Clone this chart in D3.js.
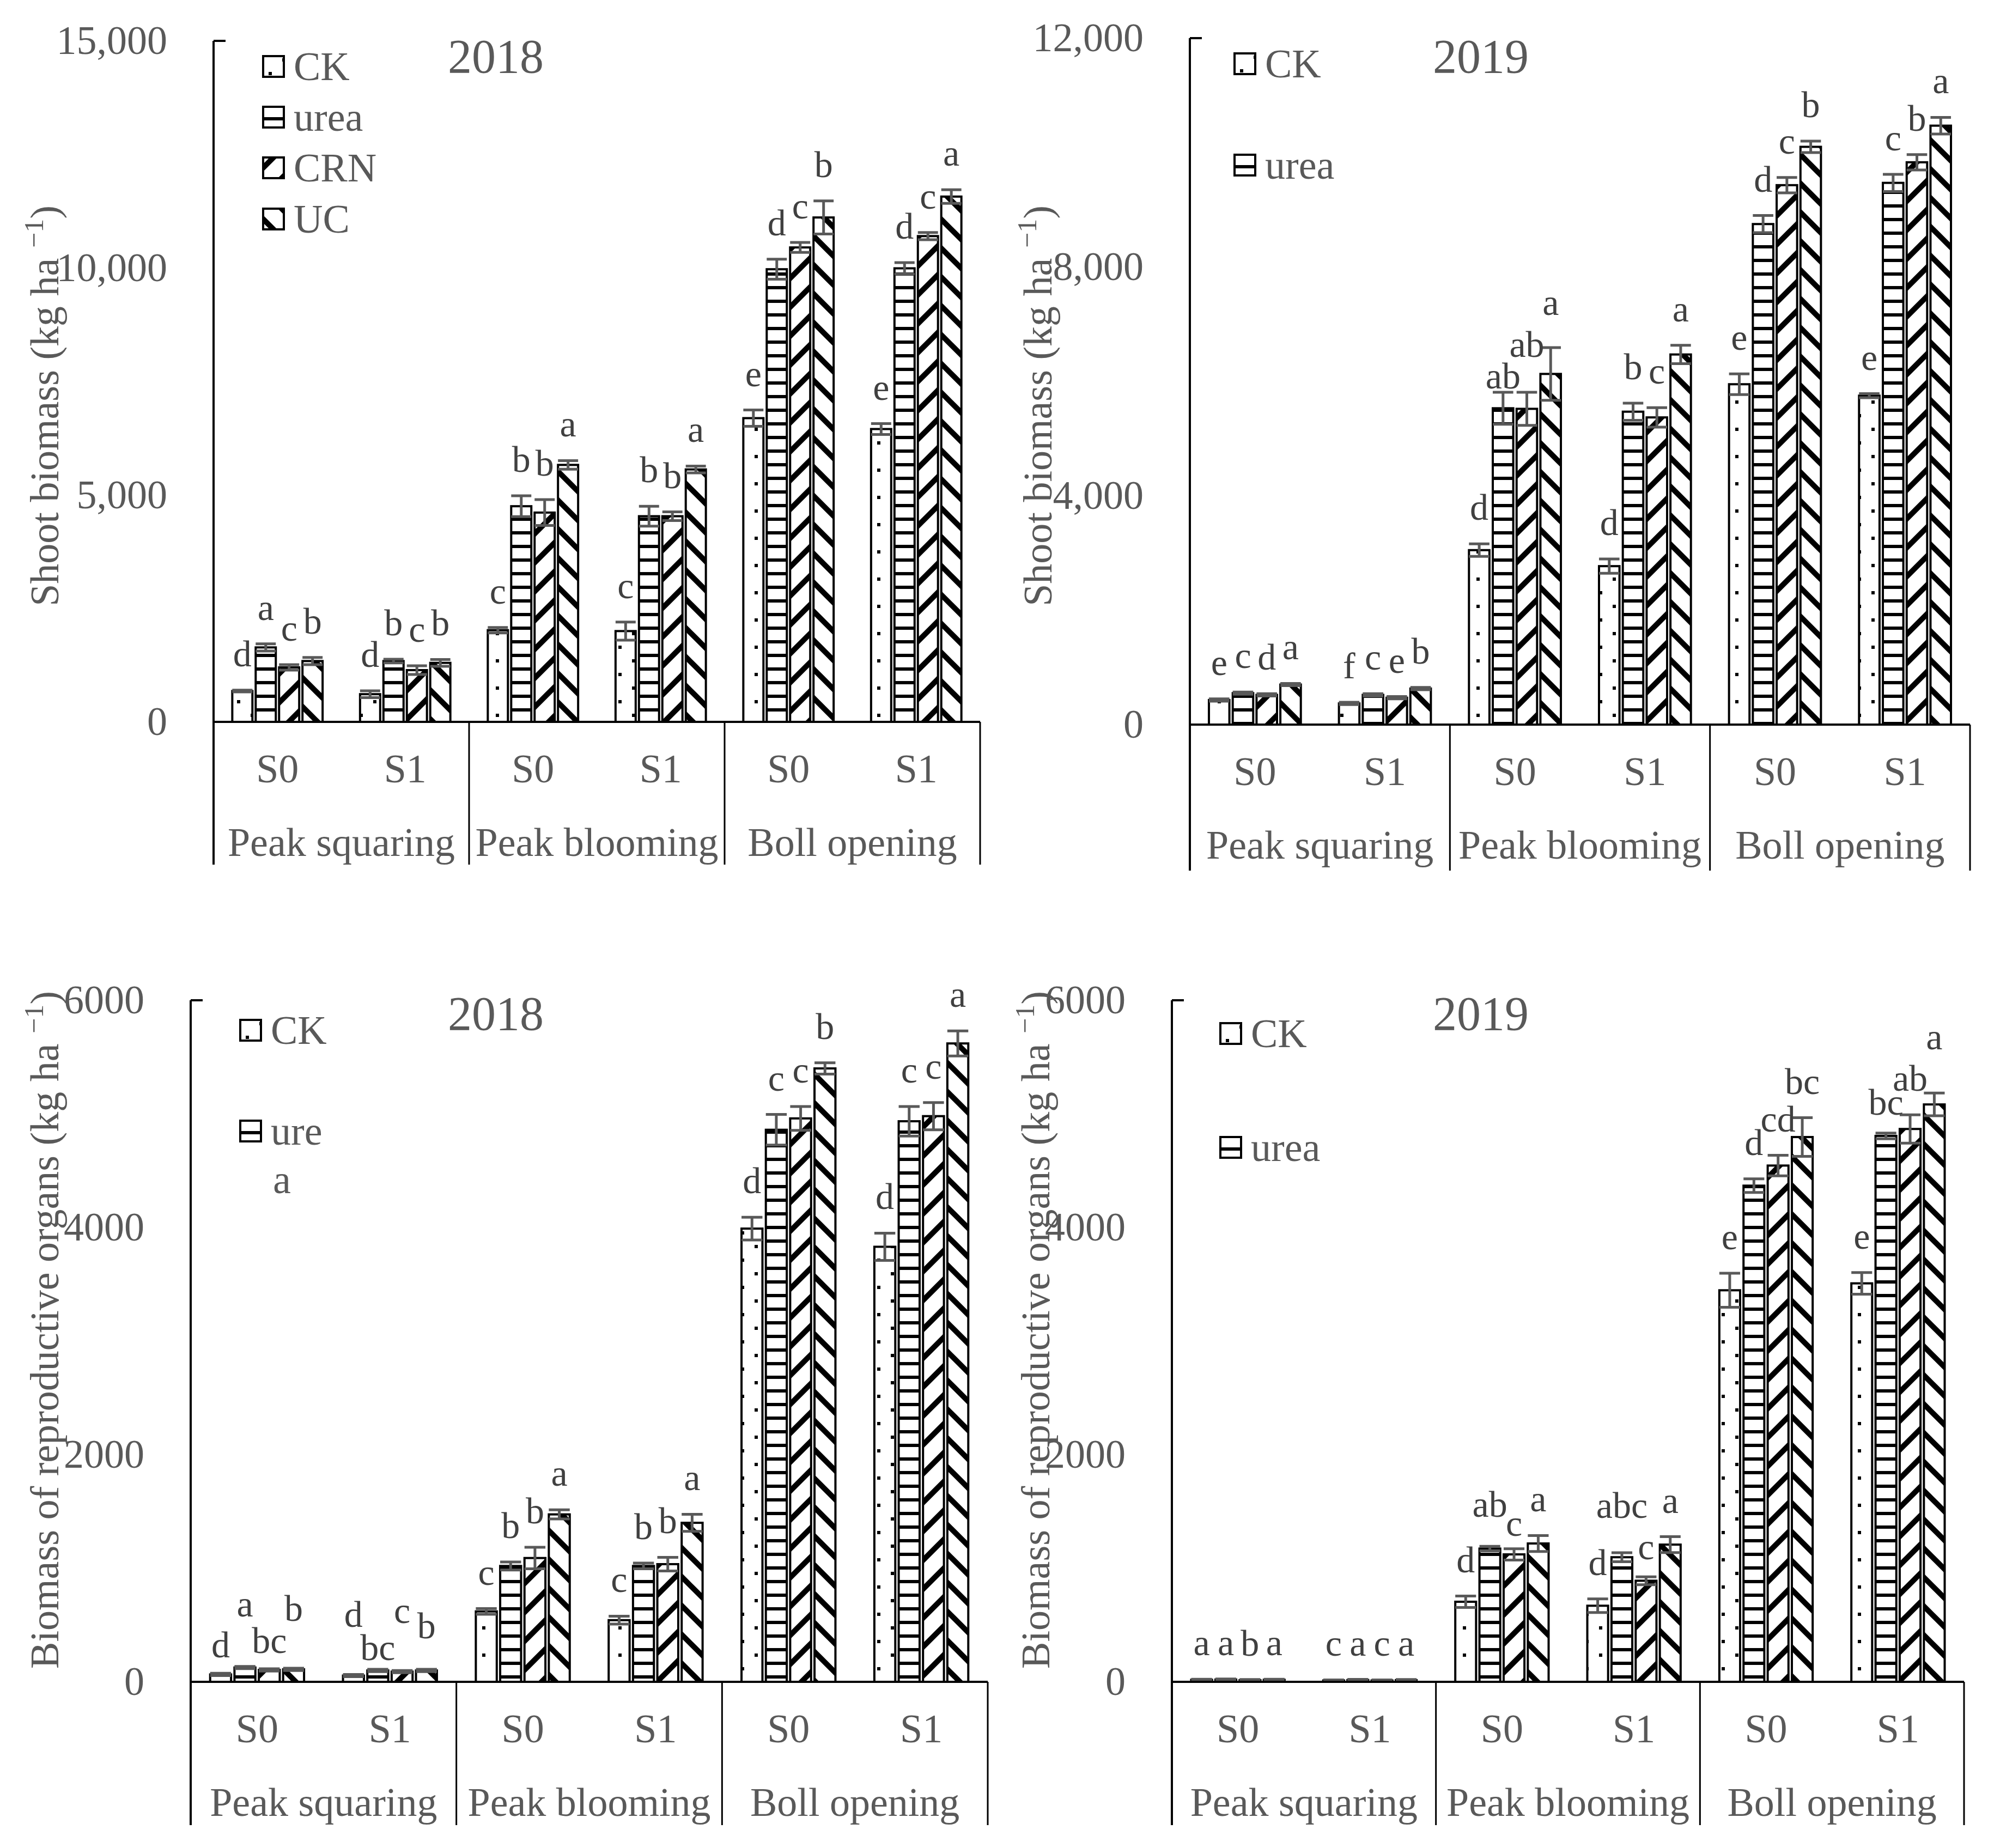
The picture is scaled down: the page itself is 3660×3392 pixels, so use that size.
<!DOCTYPE html>
<html lang="en">
<head>
<meta charset="UTF-8">
<title>Shoot and reproductive organ biomass 2018-2019</title>
<script src="https://cdn.jsdelivr.net/npm/d3@7"></script>
<style>
  body { margin: 0; background: #fff; }
  svg text { font-family: "Liberation Serif", "Times New Roman", serif; }
</style>
</head>
<body>
<div id="chart"></div>
<script>
// categories
const stages = ["Peak squaring", "Peak blooming", "Boll opening"];
const salinity = ["S0", "S1"];
const treatments = ["CK", "urea", "CRN", "UC"];

// rows: squaring S0, S1, blooming S0, S1, boll opening S0, S1 ; columns: CK, urea, CRN, UC
const shoot2018 = [
  [680, 1640, 1200, 1340], [610, 1340, 1140, 1300],
  [2020, 4750, 4610, 5660], [2000, 4530, 4530, 5560],
  [6690, 9970, 10450, 11110], [6450, 9990, 10700, 11570]
];
const shoot2018Err = [
  [20, 80, 60, 80], [75, 40, 95, 75],
  [60, 230, 285, 95], [200, 220, 95, 75],
  [180, 220, 110, 365], [120, 125, 80, 150]
];
const shoot2018Sig = [
  ["d", "a", "c", "b"], ["d", "b", "c", "b"],
  ["c", "b", "b", "a"], ["c", "b", "b", "a"],
  ["e", "d", "c", "b"], ["e", "d", "c", "a"]
];

const shoot2019 = [
  [430, 550, 520, 700], [370, 520, 470, 630],
  [3050, 5530, 5520, 6130], [2770, 5470, 5370, 6470],
  [5950, 8750, 9430, 10100], [5750, 9470, 9830, 10470]
];
const shoot2019Err = [
  [20, 20, 20, 20], [20, 20, 20, 20],
  [110, 280, 290, 460], [125, 150, 170, 160],
  [180, 150, 135, 100], [35, 150, 135, 145]
];
const shoot2019Sig = [
  ["e", "c", "d", "a"], ["f", "c", "e", "b"],
  ["d", "ab", "ab", "a"], ["d", "b", "c", "a"],
  ["e", "d", "c", "b"], ["e", "c", "b", "a"]
];

const repro2018 = [
  [65, 126, 105, 110], [55, 100, 90, 100],
  [620, 1020, 1090, 1474], [543, 1020, 1036, 1400],
  [3990, 4860, 4960, 5400], [3830, 4935, 4980, 5620]
];
const repro2018Err = [
  [10, 10, 10, 10], [10, 10, 10, 10],
  [25, 35, 95, 40], [35, 25, 60, 75],
  [100, 135, 105, 50], [120, 130, 120, 110]
];
const repro2018Sig = [
  ["d", "a", "bc", "b"], ["d", "bc", "c", "b"],
  ["c", "b", "b", "a"], ["c", "b", "b", "a"],
  ["d", "c", "c", "b"], ["d", "c", "c", "a"]
];

const repro2019 = [
  [18, 20, 15, 18], [12, 16, 12, 15],
  [705, 1173, 1122, 1218], [670, 1097, 890, 1208],
  [3447, 4368, 4545, 4796], [3508, 4806, 4867, 5083]
];
const repro2019Err = [
  [5, 5, 5, 5], [5, 5, 5, 5],
  [50, 20, 50, 70], [60, 40, 35, 70],
  [150, 60, 90, 170], [95, 25, 125, 100]
];
const repro2019Sig = [
  ["a", "a", "b", "a"], ["c", "a", "c", "a"],
  ["d", "ab", "c", "a"], ["d", "abc", "c", "a"],
  ["e", "d", "cd", "bc"], ["e", "bc", "ab", "a"]
];

// tick labels
const ticksShoot2018 = [0, 5000, 10000, 15000];
const ticksShoot2019 = [0, 4000, 8000, 12000];
const ticksRepro = [0, 2000, 4000, 6000];

// legend entries as they appear in each panel
const legendTL = [["CK"], ["urea"], ["CRN"], ["UC"]];
const legendTR = [["CK"], ["urea"]];
const legendBL = [["CK"], ["ure", "a"]];
const legendBR = [["CK"], ["urea"]];

// hand-placed letters (panel-row-col -> px lifted above default spot)
const sigLift = {
  "1-2-1": -37, "1-2-2": 21, "1-2-3": 16,
  "2-0-0": -15, "2-0-1": 48, "2-0-2": -15, "2-0-3": 43,
  "2-1-0": 43, "2-1-1": -27, "2-1-2": 43, "2-1-3": 13,
  "3-2-1": 10, "3-2-2": -20,
  "3-3-1": 20, "3-3-2": -12,
  "3-5-1": -10, "3-5-2": 0, "3-5-3": 36
};

const W = 3660, H = 3392;
const axisGrey = "#595959";
const letterGrey = "#404040";

const svg = d3.select("#chart").append("svg")
  .attr("width", W).attr("height", H)
  .style("background", "#fff");

// fill patterns
const defs = svg.append("defs");
const pCK = defs.append("pattern").attr("id", "pCK")
  .attr("patternUnits", "userSpaceOnUse").attr("width", 50).attr("height", 50);
pCK.append("rect").attr("width", 50).attr("height", 50).attr("fill", "#fff");
pCK.append("rect").attr("x", 10).attr("y", 10).attr("width", 6).attr("height", 6).attr("fill", "#000");
pCK.append("rect").attr("x", 35).attr("y", 35).attr("width", 6).attr("height", 6).attr("fill", "#000");

const pUrea = defs.append("pattern").attr("id", "pUrea")
  .attr("patternUnits", "userSpaceOnUse").attr("width", 10).attr("height", 25);
pUrea.append("rect").attr("width", 10).attr("height", 25).attr("fill", "#fff");
pUrea.append("rect").attr("y", 0).attr("width", 10).attr("height", 6).attr("fill", "#000");

const pCRN = defs.append("pattern").attr("id", "pCRN")
  .attr("patternUnits", "userSpaceOnUse").attr("width", 53).attr("height", 53);
pCRN.append("rect").attr("width", 53).attr("height", 53).attr("fill", "#fff");
pCRN.append("path").attr("d", "M-12,12L12,-12M0,53L53,0M41,65L65,41")
  .attr("stroke", "#000").attr("stroke-width", 10);

const pUC = defs.append("pattern").attr("id", "pUC")
  .attr("patternUnits", "userSpaceOnUse").attr("width", 53).attr("height", 53);
pUC.append("rect").attr("width", 53).attr("height", 53).attr("fill", "#fff");
pUC.append("path").attr("d", "M0,0L53,53M-12,41L12,65M41,-12L65,12")
  .attr("stroke", "#000").attr("stroke-width", 10);

const fills = {CK: "url(#pCK)", urea: "url(#pUrea)", CRN: "url(#pCRN)", UC: "url(#pUC)"};

const panels = [
  {x0: 392, x1: 1799, yTop: 75, y0: 1325, yBottom: 1587, max: 15000, ticks: ticksShoot2018, fmt: d3.format(","),
   values: shoot2018, err: shoot2018Err, sig: shoot2018Sig, title: "2018", titleX: 910, titleY: 103,
   yLabel: "Shoot biomass (kg ha", yLabelX: 107, yLabelY: 745,
   legend: legendTL, legX: 483, legY: [122, 215, 308, 402]},
  {x0: 2184, x1: 3616, yTop: 70, y0: 1330, yBottom: 1598, max: 12000, ticks: ticksShoot2019, fmt: d3.format(","),
   values: shoot2019, err: shoot2019Err, sig: shoot2019Sig, title: "2019", titleX: 2718, titleY: 103,
   yLabel: "Shoot biomass (kg ha", yLabelX: 1930, yLabelY: 745,
   legend: legendTR, legX: 2266, legY: [117, 303]},
  {x0: 350, x1: 1813, yTop: 1836, y0: 3087, yBottom: 3350, max: 6000, ticks: ticksRepro, fmt: d3.format("d"),
   values: repro2018, err: repro2018Err, sig: repro2018Sig, title: "2018", titleX: 910, titleY: 1860,
   yLabel: "Biomass of reproductive organs (kg ha", yLabelX: 107, yLabelY: 2441,
   legend: legendBL, legX: 441, legY: [1891, 2076]},
  {x0: 2151, x1: 3605, yTop: 1836, y0: 3087, yBottom: 3350, max: 6000, ticks: ticksRepro, fmt: d3.format("d"),
   values: repro2019, err: repro2019Err, sig: repro2019Sig, title: "2019", titleX: 2718, titleY: 1860,
   yLabel: "Biomass of reproductive organs (kg ha", yLabelX: 1926, yLabelY: 2441,
   legend: legendBR, legX: 2240, legY: [1897, 2106]}
];

panels.forEach((p, pi) => {
  const g = svg.append("g");
  const y = d3.scaleLinear().domain([0, p.max]).range([p.y0, p.yTop]);
  const xStage = d3.scaleBand().domain(stages).range([p.x0, p.x1]);
  const xSal = d3.scaleBand().domain(salinity).range([0, xStage.bandwidth()]);
  const xTrt = d3.scaleBand().domain(treatments).range([0, xSal.bandwidth()])
    .paddingInner(0.14).paddingOuter(0.8);

  // flatten rows into bar records
  const bars = [];
  p.values.forEach((row, r) => {
    const stage = stages[Math.floor(r / 2)];
    const sal = salinity[r % 2];
    row.forEach((v, i) => {
      bars.push({stage, sal, trt: treatments[i], v, e: p.err[r][i], s: p.sig[r][i],
                 lift: sigLift[`${pi}-${r}-${i}`] || 0});
    });
  });
  const bx = d => xStage(d.stage) + xSal(d.sal) + xTrt(d.trt);
  const bw = xTrt.bandwidth();

  g.selectAll("rect.bar").data(bars).join("rect")
    .attr("class", "bar")
    .attr("x", bx)
    .attr("y", d => y(d.v))
    .attr("width", bw)
    .attr("height", d => y(0) - y(d.v))
    .attr("fill", d => fills[d.trt])
    .attr("stroke", "#000")
    .attr("stroke-width", 4);

  // error bars
  const eb = g.selectAll("g.err").data(bars).join("g").attr("class", "err")
    .attr("stroke", axisGrey).attr("stroke-width", 5);
  eb.append("line")
    .attr("x1", d => bx(d) + bw / 2).attr("x2", d => bx(d) + bw / 2)
    .attr("y1", d => y(d.v + d.e)).attr("y2", d => y(Math.max(0, d.v - d.e)));
  eb.append("line")
    .attr("x1", d => bx(d)).attr("x2", d => bx(d) + bw)
    .attr("y1", d => y(d.v + d.e)).attr("y2", d => y(d.v + d.e));
  eb.append("line")
    .attr("x1", d => bx(d)).attr("x2", d => bx(d) + bw)
    .attr("y1", d => y(Math.max(0, d.v - d.e))).attr("y2", d => y(Math.max(0, d.v - d.e)));

  // significance letters
  g.selectAll("text.sig").data(bars).join("text")
    .attr("class", "sig")
    .attr("x", d => bx(d) + bw / 2)
    .attr("y", d => y(d.v + d.e) - 44 - d.lift)
    .attr("text-anchor", "middle")
    .attr("font-size", 68)
    .attr("fill", letterGrey)
    .text(d => d.s);

  // y axis
  const ax = g.append("g").attr("transform", `translate(${p.x0},0)`)
    .call(d3.axisLeft(y).tickValues(p.ticks).tickSize(0).tickPadding(85).tickFormat(p.fmt));
  ax.select(".domain").remove();
  ax.attr("font-family", null).attr("font-size", 74);
  ax.selectAll("text").attr("fill", axisGrey);

  g.append("line").attr("x1", p.x0).attr("x2", p.x0).attr("y1", p.yTop).attr("y2", p.yBottom)
    .attr("stroke", "#000").attr("stroke-width", 4);
  g.append("line").attr("x1", p.x0).attr("x2", p.x0 + 22).attr("y1", p.yTop).attr("y2", p.yTop)
    .attr("stroke", "#000").attr("stroke-width", 4);

  // x axis with stage separators
  g.append("line").attr("x1", p.x0).attr("x2", p.x1).attr("y1", p.y0).attr("y2", p.y0)
    .attr("stroke", "#000").attr("stroke-width", 4);
  g.selectAll("line.sep").data(stages).join("line").attr("class", "sep")
    .attr("x1", d => xStage(d) + xStage.bandwidth()).attr("x2", d => xStage(d) + xStage.bandwidth())
    .attr("y1", p.y0).attr("y2", p.yBottom)
    .attr("stroke", "#000").attr("stroke-width", 3);

  const salLabels = [];
  stages.forEach(st => salinity.forEach(s => salLabels.push({st, s})));
  g.selectAll("text.sal").data(salLabels).join("text").attr("class", "sal")
    .attr("x", d => xStage(d.st) + xSal(d.s) + xSal.bandwidth() / 2)
    .attr("y", p.y0 + 86 + 25)
    .attr("text-anchor", "middle").attr("font-size", 74).attr("fill", axisGrey)
    .text(d => d.s);
  g.selectAll("text.stage").data(stages).join("text").attr("class", "stage")
    .attr("x", d => xStage(d) + xStage.bandwidth() / 2)
    .attr("y", p.y0 + 221 + 25)
    .attr("text-anchor", "middle").attr("font-size", 74).attr("fill", axisGrey)
    .text(d => d);

  // y axis title
  const yt = g.append("text")
    .attr("transform", `translate(${p.yLabelX},${p.yLabelY}) rotate(-90)`)
    .attr("text-anchor", "middle").attr("font-size", 74).attr("fill", axisGrey);
  yt.append("tspan").text(p.yLabel + " ");
  yt.append("tspan").attr("dy", -28).attr("font-size", 50).text("\u22121");
  yt.append("tspan").attr("dy", 28).text(")");

  // panel title
  g.append("text").attr("x", p.titleX).attr("y", p.titleY + 30)
    .attr("text-anchor", "middle").attr("font-size", 88).attr("fill", axisGrey)
    .text(p.title);

  // legend
  const lg = g.selectAll("g.leg").data(p.legend).join("g").attr("class", "leg")
    .attr("transform", (d, i) => `translate(${p.legX},${p.legY[i]})`);
  lg.append("rect").attr("x", 0).attr("y", -19).attr("width", 38).attr("height", 38)
    .attr("fill", (d, i) => fills[treatments[i]])
    .attr("stroke", "#000").attr("stroke-width", 4);
  const lt = lg.append("text").attr("x", 56).attr("y", 25)
    .attr("font-size", 74).attr("fill", axisGrey);
  lt.selectAll("tspan").data(d => d).join("tspan")
    .attr("x", (d, i) => i === 0 ? 56 : 60)
    .attr("dy", (d, i) => i === 0 ? 0 : 89)
    .text(d => d);
});
</script>
</body>
</html>
